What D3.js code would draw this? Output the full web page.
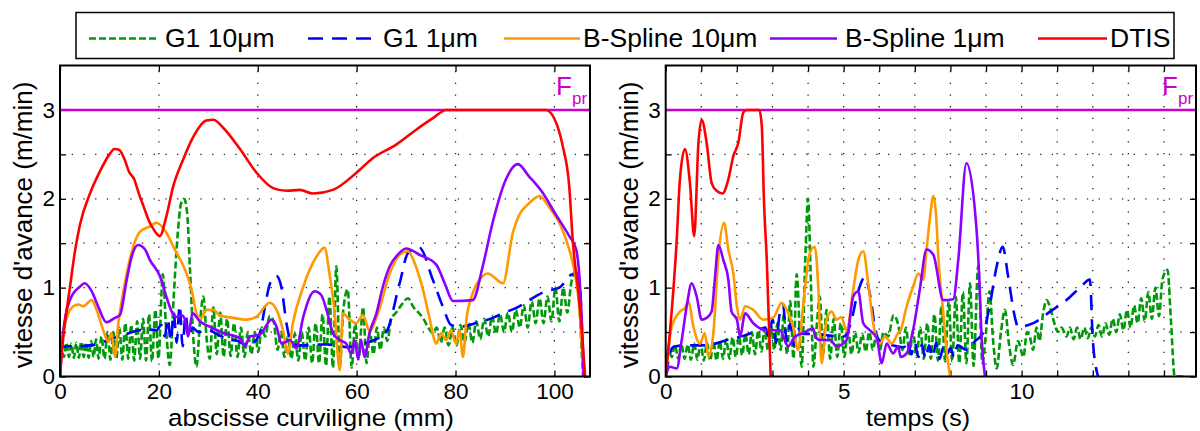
<!DOCTYPE html>
<html><head><meta charset="utf-8">
<script src="https://cdn.jsdelivr.net/npm/d3@7"></script>
<style>body{margin:0;background:#fff}svg{display:block;font-family:"Liberation Sans",Arial,sans-serif}</style>
</head><body>
<svg id="c" width="1200" height="431"></svg>
<script>
// ---------- DATA ----------
const seriesNames = ["G1 10μm","G1 1μm","B-Spline 10μm","B-Spline 1μm","DTIS"];
const Fpr = 3;
const yTicks = [0,0.5,1,1.5,2,2.5,3];
const yTickLabels = ["0","","1","","2","","3"];
const leftXTicks = [0,20,40,60,80,100];
const rightXTicks = [0,1,2,3,4,5,6,7,8,9,10,11,12,13,14];
const rightXTickLabels = {0:"0",5:"5",10:"10"};

// Left panel: abscisse curviligne (mm) -> vitesse (m/min)
const leftG1_10 = [[0,0],[0.3,0.3],[0.8,0.22],[1.3,0.38],[1.8,0.22],[2.3,0.37],[2.8,0.21],[3.3,0.38],[3.8,0.21],[4.3,0.39],[4.8,0.22],[5.3,0.38],[5.8,0.21],[6.3,0.4],[6.8,0.22],[7.3,0.42],[7.8,0.2],[8.4,0.45],[9.0,0.2],[9.6,0.5],[10.2,0.19],[10.8,0.5],[11.4,0.2],[12,0.55],[12.6,0.19],[13.2,0.6],[13.8,0.2],[14.4,0.58],[15,0.18],[15.6,0.62],[16.2,0.2],[16.8,0.65],[17.4,0.18],[18,0.7],[18.6,0.17],[19.3,0.75],[19.9,0.2],[20.8,1.15],[21.5,0.5],[22.2,0.13],[23,0.9],[23.8,1.6],[24.5,1.95],[25.1,2.0],[25.7,1.85],[26.3,1.2],[27,0.4],[27.6,0.11],[28.3,0.6],[29,0.9],[29.7,0.4],[30.3,0.2],[31,0.78],[31.7,0.25],[32.4,0.72],[33.1,0.22],[33.8,0.65],[34.5,0.23],[35.2,0.6],[35.9,0.22],[36.6,0.55],[37.3,0.22],[38,0.5],[38.7,0.25],[39.4,0.5],[40.1,0.28],[40.8,0.55],[41.5,0.45],[42.4,0.68],[43.2,0.62],[44,0.3],[44.7,0.5],[45.4,0.22],[46.1,0.45],[46.8,0.2],[47.5,0.48],[48.2,0.18],[48.9,0.5],[49.6,0.18],[50.3,0.55],[51,0.15],[51.7,0.6],[52.4,0.15],[53.1,0.7],[53.8,0.12],[54.5,0.9],[55.2,0.1],[55.9,1.24],[56.6,0.12],[57.3,0.75],[58.2,0.98],[59,0.1],[59.7,0.6],[60.4,0.2],[61.3,0.78],[62,0.15],[62.7,0.5],[63.4,0.25],[64.1,0.55],[64.8,0.3],[65.5,0.55],[66.2,0.4],[67,0.65],[68,0.72],[69,0.8],[70.4,0.88],[71.5,0.78],[72.5,0.72],[73.5,0.65],[74.5,0.55],[75.4,0.49],[76.2,0.55],[77,0.38],[77.8,0.55],[78.6,0.35],[79.4,0.55],[80.2,0.35],[81,0.58],[81.8,0.38],[82.6,0.6],[83.4,0.38],[84.2,0.62],[85,0.42],[85.8,0.65],[86.6,0.45],[87.4,0.68],[88.2,0.48],[89,0.7],[89.8,0.5],[90.6,0.72],[91.4,0.5],[92.2,0.75],[93,0.55],[93.8,0.8],[94.6,0.55],[95.4,0.85],[96.2,0.6],[97,0.88],[97.8,0.6],[98.6,0.9],[99.4,0.62],[100.2,1.0],[101,0.62],[101.8,1.0],[102.6,0.72],[103.4,1.05],[104.4,1.2],[105,0.9],[105.5,0.3],[105.8,0]];
const leftG1_1 = [[0,0],[0.4,0.33],[2,0.34],[4,0.34],[6,0.35],[8,0.37],[10,0.42],[12,0.45],[14,0.49],[16,0.52],[18,0.53],[19.5,0.52],[20.5,0.58],[21.2,0.45],[21.8,0.65],[22.4,0.4],[23,0.72],[23.6,0.38],[24.2,0.8],[24.8,0.34],[25.4,0.7],[26,0.45],[26.8,0.55],[28,0.5],[30,0.52],[32,0.47],[34,0.42],[36,0.4],[38,0.35],[39.5,0.4],[40.5,0.5],[41.5,0.8],[42.5,1.05],[43.8,1.13],[44.8,1.0],[45.8,0.6],[46.8,0.38],[48,0.35],[50,0.35],[52,0.36],[54,0.36],[56,0.35],[58,0.33],[60,0.35],[62,0.38],[64,0.42],[66,0.5],[68.7,1.05],[70.4,1.39],[72.7,1.45],[75.4,1.09],[77.4,0.79],[79.1,0.58],[80.8,0.56],[84,0.6],[87.5,0.66],[90,0.72],[92.9,0.79],[95.5,0.88],[98.3,0.96],[101,1.0],[103.7,1.15],[105,1.1],[105.6,0.5],[105.9,0]];
const leftBS_10 = [[0,0],[0.5,0.45],[1.35,0.66],[2.7,0.79],[3.7,0.81],[4.7,0.79],[6.4,0.86],[7.4,0.75],[8.75,0.52],[9.75,0.39],[10.4,0.49],[11.1,0.22],[11.8,0.6],[12.5,0.86],[13.5,1.16],[14.8,1.46],[16.2,1.63],[18.2,1.69],[19.5,1.73],[21.5,1.62],[23.2,1.43],[25.3,1.2],[26.6,0.98],[27.6,0.71],[28.3,0.64],[29.6,0.75],[31,0.75],[32.3,0.69],[35,0.66],[37.7,0.64],[39.7,0.67],[42.4,0.83],[43.8,0.75],[45.1,0.52],[46.1,0.26],[47.1,0.6],[49.2,1.01],[51.9,1.35],[53.5,1.45],[54.5,1.16],[55.5,0.75],[56.6,0.07],[57.2,0.71],[58.6,0.64],[59.9,0.6],[61.3,0.69],[62.6,0.51],[64.3,0.71],[66.7,1.16],[68.7,1.37],[70.4,1.41],[71.7,1.28],[73.4,0.98],[74.7,0.67],[76.1,0.37],[77.1,0.49],[78.1,0.41],[79.1,0.52],[80.1,0.37],[80.8,0.52],[81.5,0.22],[82.2,0.64],[83.5,0.94],[85.5,1.13],[86.5,1.16],[89.6,1.05],[91.6,1.62],[92.9,1.82],[94.9,1.95],[97,2.03],[99,1.9],[101,1.73],[103,1.43],[104,1.2],[105,0.8],[105.6,0.3],[105.9,0]];
const leftBS_1 = [[0,0],[0.7,0.52],[2,0.86],[4,1.01],[5,1.05],[6.4,0.96],[7.7,0.79],[9.4,0.61],[11.1,0.66],[12.1,0.69],[13.5,1.09],[14.5,1.35],[15.8,1.48],[17.2,1.43],[18.2,1.31],[20.2,1.13],[21.5,0.9],[22.6,0.73],[23.6,0.67],[24.6,0.69],[25.3,0.64],[25.9,0.45],[26.8,0.71],[28.3,0.62],[30.3,0.56],[33,0.49],[36.4,0.43],[37.4,0.34],[38.4,0.45],[40.4,0.47],[42.8,0.64],[43.8,0.56],[44.8,0.37],[46.5,0.41],[47.8,0.32],[49.2,0.67],[51.5,0.96],[52.8,0.92],[53.9,0.75],[55.2,0.49],[56.6,0.41],[57.9,0.37],[58.9,0.26],[59.6,0.41],[60.3,0.19],[60.9,0.41],[61.6,0.22],[62.6,0.49],[64,0.71],[65.3,1.01],[66.7,1.24],[68.3,1.37],[70,1.44],[72.7,1.37],[76.1,1.26],[77.8,1.05],[79.5,0.85],[83.5,0.86],[85.5,1.24],[87.5,1.73],[90.2,2.22],[92.6,2.39],[94.9,2.25],[97.6,2.07],[100.3,1.82],[103,1.58],[104.4,1.43],[105.2,1.0],[105.7,0.4],[105.9,0]];
const leftDTIS = [[0,0],[0.5,0.35],[1,0.6],[2,1.0],[3,1.4],[4,1.7],[6,2.05],[8,2.3],[10,2.5],[11,2.56],[12,2.55],[13,2.45],[14,2.3],[15,2.22],[16,2.05],[17,1.9],[18,1.75],[19,1.65],[20.2,1.58],[21.5,1.8],[22.9,2.14],[24.9,2.44],[26.9,2.69],[29.6,2.88],[31,2.89],[33,2.8],[36.4,2.56],[39.8,2.29],[43.1,2.12],[45.8,2.09],[48.5,2.1],[51.2,2.06],[55.2,2.1],[59.9,2.29],[63.3,2.46],[68,2.61],[72.1,2.78],[75.5,2.91],[78.1,3.0],[98.3,3.0],[100,2.9],[101.7,2.59],[103,2.14],[103.7,1.54],[105,0.86],[105.7,0.41],[106.2,0]];

// Right panel: temps (s) -> vitesse (m/min)
const rightG1_10 = [[0,0],[0.08,0.3],[0.17,0.22],[0.26,0.36],[0.35,0.2],[0.44,0.37],[0.53,0.2],[0.62,0.36],[0.71,0.19],[0.8,0.37],[0.89,0.19],[0.98,0.38],[1.07,0.18],[1.16,0.38],[1.25,0.18],[1.34,0.4],[1.43,0.18],[1.52,0.4],[1.61,0.2],[1.7,0.42],[1.79,0.2],[1.88,0.44],[1.97,0.22],[2.06,0.45],[2.15,0.24],[2.24,0.48],[2.33,0.25],[2.42,0.5],[2.51,0.25],[2.6,0.52],[2.69,0.28],[2.78,0.55],[2.87,0.3],[2.96,0.58],[3.05,0.3],[3.14,0.6],[3.23,0.3],[3.32,0.7],[3.41,0.25],[3.5,0.85],[3.59,0.2],[3.68,1.15],[3.82,0.11],[3.92,1.3],[4.0,2.0],[4.07,1.2],[4.15,0.11],[4.25,0.6],[4.33,0.9],[4.42,0.25],[4.52,0.75],[4.62,0.2],[4.72,0.65],[4.82,0.22],[4.92,0.6],[5.02,0.22],[5.12,0.55],[5.22,0.25],[5.32,0.5],[5.42,0.27],[5.52,0.48],[5.62,0.28],[5.72,0.5],[5.82,0.3],[5.92,0.48],[6.02,0.3],[6.12,0.5],[6.25,0.45],[6.4,0.69],[6.55,0.55],[6.65,0.3],[6.75,0.55],[6.85,0.25],[6.95,0.5],[7.05,0.22],[7.15,0.55],[7.25,0.2],[7.35,0.6],[7.45,0.2],[7.55,0.7],[7.65,0.18],[7.75,0.8],[7.85,0.17],[7.95,0.85],[8.05,0.17],[8.15,0.9],[8.25,0.15],[8.35,0.95],[8.45,0.15],[8.55,1.05],[8.65,0.12],[8.78,1.24],[8.9,0.15],[9.0,0.5],[9.1,0.96],[9.2,0.4],[9.3,0.09],[9.42,0.5],[9.53,0.75],[9.65,0.35],[9.76,0.13],[9.9,0.4],[10.05,0.22],[10.15,0.5],[10.23,0.45],[10.32,0.3],[10.42,0.55],[10.5,0.4],[10.6,0.7],[10.7,0.86],[10.82,0.75],[10.92,0.6],[11.02,0.5],[11.12,0.55],[11.26,0.45],[11.36,0.55],[11.46,0.42],[11.56,0.55],[11.66,0.42],[11.76,0.55],[11.86,0.43],[11.96,0.55],[12.06,0.45],[12.16,0.58],[12.26,0.45],[12.36,0.6],[12.46,0.47],[12.56,0.65],[12.66,0.5],[12.76,0.7],[12.86,0.52],[12.96,0.75],[13.06,0.55],[13.16,0.8],[13.26,0.6],[13.36,0.88],[13.46,0.62],[13.56,0.95],[13.66,0.65],[13.76,1.0],[13.86,0.68],[13.96,1.1],[14.1,1.2],[14.2,0.6],[14.3,0],[14.6,0]];
const rightG1_1 = [[0,0],[0.2,0.33],[0.5,0.35],[1,0.35],[1.4,0.37],[1.8,0.42],[2.2,0.46],[2.6,0.52],[2.8,0.55],[2.9,0.45],[3.0,0.65],[3.1,0.38],[3.2,0.7],[3.3,0.8],[3.4,0.4],[3.5,0.6],[3.6,0.35],[3.7,0.55],[3.85,0.48],[4.2,0.48],[4.6,0.46],[5.0,0.45],[5.2,0.6],[5.4,0.95],[5.6,1.12],[5.75,0.9],[5.93,0.45],[6.1,0.38],[6.4,0.35],[6.7,0.33],[6.8,0.4],[6.9,0.25],[7.0,0.38],[7.1,0.22],[7.2,0.36],[7.3,0.2],[7.4,0.35],[7.5,0.22],[7.6,0.38],[7.7,0.2],[7.8,0.33],[7.9,0.25],[8.0,0.32],[8.1,0.22],[8.2,0.35],[8.45,0.3],[8.7,0.4],[8.92,0.49],[9.1,0.79],[9.3,1.24],[9.47,1.46],[9.62,1.13],[9.81,0.67],[9.9,0.56],[10.33,0.6],[10.8,0.73],[11.26,0.86],[11.64,1.0],[11.92,1.09],[12.0,0.41],[12.15,0]];
const rightBS_10 = [[0,0],[0.17,0.56],[0.4,0.73],[0.54,0.77],[0.64,0.84],[0.78,0.56],[0.96,0.37],[1.1,0.49],[1.2,0.22],[1.34,0.49],[1.48,1.35],[1.64,1.73],[1.76,1.43],[1.9,1.16],[2.0,0.79],[2.09,0.64],[2.23,0.79],[2.46,0.75],[2.74,0.64],[3.02,0.66],[3.26,0.83],[3.4,0.75],[3.58,0.56],[3.72,0.3],[3.87,0.83],[4.05,1.39],[4.19,1.46],[4.29,0.98],[4.38,0.15],[4.52,0.64],[4.66,0.73],[4.8,0.64],[4.94,0.67],[5.08,0.51],[5.27,0.98],[5.41,1.31],[5.55,1.41],[5.69,1.05],[5.83,0.6],[6.02,0.37],[6.16,0.45],[6.35,0.37],[6.53,0.49],[6.6,0.52],[6.77,0.79],[6.95,1.01],[7.1,1.16],[7.24,1.09],[7.32,1.39],[7.42,1.77],[7.52,2.03],[7.6,1.8],[7.66,1.35],[7.8,0.71],[7.89,0.3],[7.99,0]];
const rightBS_1 = [[0,0],[0.12,0.11],[0.31,0.09],[0.45,0.41],[0.59,0.79],[0.73,1.05],[0.87,0.9],[1.01,0.64],[1.15,0.66],[1.29,0.73],[1.38,1.09],[1.48,1.48],[1.62,1.31],[1.76,1.09],[1.85,0.73],[2.0,0.64],[2.09,0.45],[2.23,0.71],[2.46,0.6],[2.84,0.52],[3.21,0.52],[3.44,0.34],[3.63,0.45],[3.87,0.49],[4.15,0.54],[4.2,0.45],[4.33,0.41],[4.62,0.41],[4.8,0.34],[5.08,0.41],[5.27,0.9],[5.41,0.96],[5.55,0.6],[5.74,0.52],[5.93,0.43],[6.07,0.15],[6.21,0.37],[6.39,0.26],[6.53,0.34],[6.6,0.22],[6.77,0.26],[6.95,0.52],[7.14,0.98],[7.33,1.43],[7.52,1.37],[7.8,0.86],[8.08,0.87],[8.22,1.31],[8.45,2.4],[8.74,1.62],[8.8,1.2],[8.88,0.41],[8.97,0]];
const rightDTIS = [[0,0],[0.31,1.54],[0.4,2.22],[0.54,2.56],[0.68,2.18],[0.8,1.58],[0.92,2.63],[1.01,2.89],[1.15,2.63],[1.29,2.18],[1.43,2.09],[1.6,2.06],[1.76,2.22],[1.9,2.48],[2.04,2.63],[2.18,2.97],[2.28,3.0],[2.63,3.0],[2.7,2.82],[2.76,1.99],[2.84,1.31],[2.95,0]];

const colors = {"G1 10μm":"#00990a","G1 1μm":"#0000ff","B-Spline 10μm":"#ff9900","B-Spline 1μm":"#8c00ff","DTIS":"#ff0000"};
const dashes = {"G1 10μm":"7,3","G1 1μm":"15,9","B-Spline 10μm":null,"B-Spline 1μm":null,"DTIS":null};
const magenta = "#cc00cc";

// ---------- DRAW ----------
const svg = d3.select("#c");
const plotTop = 65.5, plotBottom = 376.5;
const y = d3.scaleLinear().domain([0,3.5]).range([plotBottom, plotTop]);

function panel(id, x0, x1, xDomain, xTicks, xLabelFn, xTitle, xTitleX, xTitleLen, data) {
  const x = d3.scaleLinear().domain(xDomain).range([x0, x1]);
  const g = svg.append("g");
  g.append("clipPath").attr("id","clip"+id).append("rect")
    .attr("x",x0).attr("y",plotTop).attr("width",x1-x0).attr("height",plotBottom-plotTop);
  // grid
  const grid = g.append("g").attr("stroke","#222").attr("stroke-width",1.3).attr("stroke-dasharray","1.3,10.4");
  xTicks.filter(t=>t>xDomain[0]).forEach(t=>grid.append("line").attr("x1",x(t)).attr("x2",x(t)).attr("y1",plotBottom).attr("y2",plotTop));
  yTicks.filter(t=>t>0).forEach(t=>grid.append("line").attr("x1",x0).attr("x2",x1).attr("y1",y(t)).attr("y2",y(t)));
  // axes
  const ax = d3.axisBottom(x).tickValues(xTicks).tickFormat(xLabelFn).tickSize(-6).tickPadding(6.5);
  const gx = g.append("g").attr("transform",`translate(0,${plotBottom})`).call(ax);
  const gxt = g.append("g").attr("transform",`translate(0,${plotTop})`).call(d3.axisTop(x).tickValues(xTicks).tickFormat("").tickSize(-6));
  const ay = d3.axisLeft(y).tickValues(yTicks).tickFormat((d,i)=>yTickLabels[i]).tickSize(-6).tickPadding(5);
  const gy = g.append("g").attr("transform",`translate(${x0},0)`).call(ay);
  const gyr = g.append("g").attr("transform",`translate(${x1},0)`).call(d3.axisRight(y).tickValues(yTicks).tickFormat("").tickSize(-6));
  [gx,gxt,gy,gyr].forEach(a=>{a.select(".domain").remove();a.selectAll("line").attr("stroke","#000").attr("stroke-width",1.3);
    a.selectAll("text").attr("font-size",22.5).attr("fill","#000").attr("font-family","Liberation Sans, Arial, sans-serif");});
  // Fpr line
  const plot = g.append("g").attr("clip-path",`url(#clip${id})`);
  plot.append("line").attr("x1",x0).attr("x2",x1).attr("y1",y(Fpr)).attr("y2",y(Fpr)).attr("stroke",magenta).attr("stroke-width",2.5);
  const line = d3.line().x(d=>x(d[0])).y(d=>y(d[1])).curve(d3.curveMonotoneX);
  data.forEach(([name,arr])=>{
    plot.append("path").datum(arr).attr("d",line).attr("fill","none")
      .attr("stroke",colors[name]).attr("stroke-width",2.6)
      .attr("stroke-dasharray",dashes[name]).attr("stroke-linejoin","round");
  });
  // frame
  g.append("rect").attr("x",x0).attr("y",plotTop).attr("width",x1-x0).attr("height",plotBottom-plotTop)
    .attr("fill","none").attr("stroke","#000").attr("stroke-width",2);
  // Fpr label
  g.append("text").attr("x",x1-34).attr("y",95).attr("fill",magenta).attr("font-size",26).text("F");
  g.append("text").attr("x",x1-18).attr("y",104).attr("fill",magenta).attr("font-size",17).text("pr");
  // titles
  g.append("text").attr("x",xTitleX).attr("y",426).attr("text-anchor","middle").attr("font-size",24.5)
    .attr("textLength",xTitleLen).attr("lengthAdjust","spacingAndGlyphs").text(xTitle);
  g.append("text").attr("transform",`translate(${x0-28},${(plotTop+plotBottom)/2+4}) rotate(-90)`)
    .attr("text-anchor","middle").attr("font-size",26).text("vitesse d'avance (m/min)");
}

panel("L",60,590,[0,107.2],leftXTicks,d=>String(d),"abscisse curviligne (mm)",311,286,
  [["G1 10μm",leftG1_10],["G1 1μm",leftG1_1],["B-Spline 10μm",leftBS_10],["B-Spline 1μm",leftBS_1],["DTIS",leftDTIS]]);
panel("R",665.7,1196,[0,14.9],rightXTicks,d=>rightXTickLabels[d]||"","temps (s)",918,104,
  [["G1 10μm",rightG1_10],["G1 1μm",rightG1_1],["B-Spline 10μm",rightBS_10],["B-Spline 1μm",rightBS_1],["DTIS",rightDTIS]]);

// legend
const leg = svg.append("g");
leg.append("rect").attr("x",76).attr("y",12.5).attr("width",1098).attr("height",46).attr("fill","#fff").attr("stroke","#000").attr("stroke-width",1.5);
const legLineX = [[89,157],[308,371],[504,580],[770,837],[1038,1107]];
const legTextX = [165,383,583,845,1110];
seriesNames.forEach((n,i)=>{
  leg.append("line").attr("x1",legLineX[i][0]).attr("x2",legLineX[i][1]).attr("y1",38.5).attr("y2",38.5)
    .attr("stroke",colors[n]).attr("stroke-width",2.6).attr("stroke-dasharray",dashes[n]);
  leg.append("text").attr("x",legTextX[i]).attr("y",47).attr("font-size",26.5).text(n);
});
</script>
</body></html>
